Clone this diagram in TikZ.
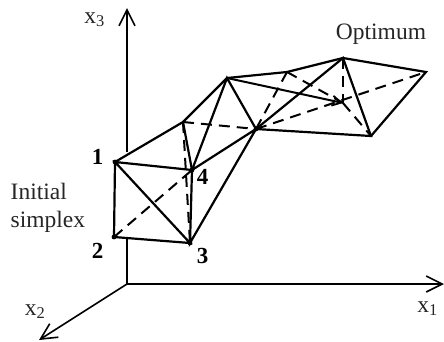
\documentclass[tikz,border=0pt]{standalone}
\usepackage{fontspec}
\setmainfont{Liberation Serif}
\usetikzlibrary{arrows.meta}
\tikzset{
  axis/.style={line width=1.6pt,-{Straight Barb[length=16pt,width=16pt,line width=1.6pt]}},
  axisplain/.style={line width=1.6pt},
  edge/.style={line width=2.2pt,line cap=round},
  hidden/.style={line width=2pt,dash pattern=on 11pt off 7pt},
  lab/.style={font=\fontsize{23.5pt}{26pt}\selectfont,text=black!85,inner sep=0pt},
  num/.style={font=\fontsize{23pt}{26pt}\selectfont\bfseries,inner sep=0pt},
}
\begin{document}
\begin{tikzpicture}[x=1pt,y=-1pt]
\useasboundingbox (0,0) rectangle (444,341);
\fill[white] (0,0) rectangle (444,341);
\coordinate (o) at (127,284);
\coordinate (x1end) at (444,284);
\coordinate (x2end) at (39,340);
\coordinate (x3end) at (127,8);
\coordinate (x3low) at (127,152);
\coordinate (x3hid) at (127,239);
\foreach \n/\x/\y in {a/115/162,b/114/237,c/190/243,d/192/170,e/183/122,f/256/129,g/227/78,h/287/72,i/343/58,j/426/72,k/371/136,m/343/103}
  \coordinate (\n) at (\x,\y);
\draw[axis] (x3low) -- (x3end);
\draw[axisplain] (x3hid) -- (o);
\draw[axis] (o) -- (x1end);
\draw[axis] (o) -- (x2end);
\draw[hidden] (b) -- (d);
\draw[hidden] (e) -- (c);
\draw[hidden] (e) -- (f);
\draw[hidden] (f) -- (h);
\draw[hidden] (h) -- (m);
\draw[hidden] (i) -- (m);
\draw[hidden] (m) -- (k);
\draw[hidden] (f) -- (j);
\draw[edge] (a) -- (b) -- (c) -- (a) -- (d) -- (c) -- (f) -- (d) -- (g) -- (f) -- (i) -- (k) -- (f);
\draw[edge] (a) -- (e) -- (g) -- (h) -- (i) -- (j) -- (k);
\draw[edge] (e) -- (d);
\draw[line width=2pt,-{Straight Barb[length=9pt,width=10pt,line width=1.8pt]}] (g) -- (m);
\foreach \n in {a,b,c,d,f} \fill (\n) circle (2.4pt);
\node[lab,anchor=base] (lo) at (381,39) {Optimum};
\node[lab,anchor=base] (l3) at (94.5,23) {x\textsubscript{3}};
\node[lab,anchor=base] (l1) at (427.5,312) {x\textsubscript{1}};
\node[lab,anchor=base] (l2) at (35,315) {x\textsubscript{2}};
\node[lab,anchor=base west] (l4) at (10.5,199) {Initial};
\node[lab,anchor=base west] (l5) at (10.5,227) {simplex};
\node[num,anchor=base] (n1) at (97.5,164) {1};
\node[num,anchor=base] (n2) at (97.5,258) {2};
\node[num,anchor=base] (n3) at (202.5,263) {3};
\node[num,anchor=base] (n4) at (202.5,184) {4};
\end{tikzpicture}
\end{document}
